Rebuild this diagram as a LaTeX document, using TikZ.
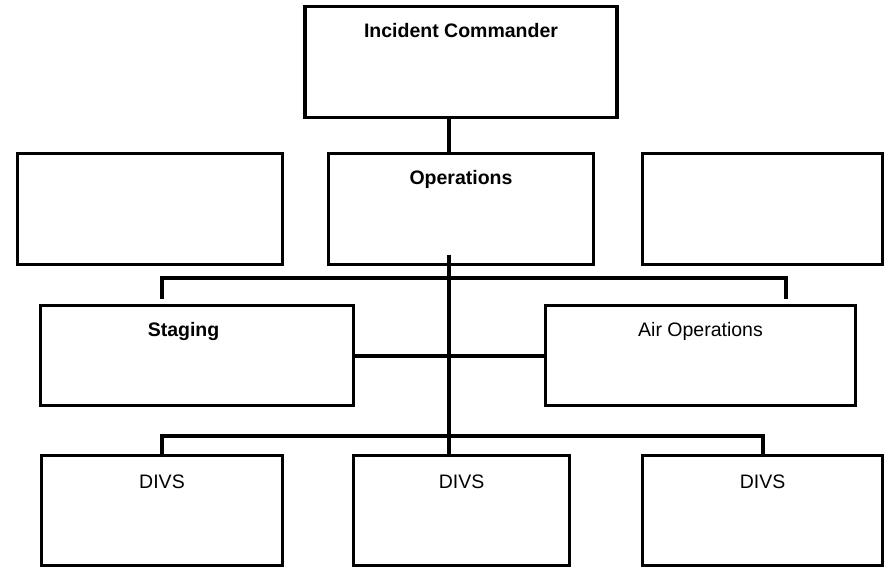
\documentclass[tikz,border=0pt]{standalone}
\usepackage{fontspec}
\setmainfont{Liberation Sans}
\usetikzlibrary{positioning}

\begin{document}
\begin{tikzpicture}[font=\fontsize{19.5}{23}\selectfont]
  \tikzstyle{post}=[rectangle,draw=black,line width=3.3pt,inner sep=0pt,outer sep=0pt,text height=31pt,text depth=80pt]
  \tikzstyle{unit}=[post,text depth=69pt]
  \tikzstyle{divs}=[post,text height=33pt,text depth=77pt,minimum width=240pt]
  \tikzstyle{link}=[line width=4pt]

  \useasboundingbox (0,0) rectangle (890pt,-569pt);

  \begin{scope}
    % command and general staff
    \node [post,minimum width=312pt] (IC) at (461pt,-62pt) {\textbf{Incident Commander}};
    \node [post,minimum width=265pt] (Ops) [below=36pt of IC] {\textbf{Operations}};
    \node [post,minimum width=265pt] (GenL) [left=46pt of Ops] {};
    \node [post,minimum width=240pt] (GenR) [right=49pt of Ops] {};
    % branches under operations
    \node [unit,minimum width=313pt] (Stg) [below right=41pt and 23pt of GenL.south west]
      {\textbf{Staging}\hspace*{27pt}};
    \node [unit,minimum width=310pt] (Air) [right=192pt of Stg] {Air Operations};
    % divisions
    \node [divs,minimum width=241pt] (Div1) [below right=50pt and 1pt of Stg.south west] {DIVS};
    \node [divs,minimum width=216pt] (Div2) [right=71pt of Div1] {DIVS};
    \node [divs] (Div3) [right=73pt of Div2] {DIVS};
  \end{scope}

  \begin{scope}
    \coordinate (spine) at ([xshift=-12pt]Ops.north);
    \coordinate (spinetop) at ([xshift=-12pt,yshift=10pt]Ops.south);
    \coordinate (stgtap) at ([xshift=-35.5pt,yshift=7pt]Stg.north);
    \coordinate (airtap) at ([xshift=85pt,yshift=7pt]Air.north);
    \draw [link] (IC.south -| spine) -- (spine);
    \draw [link] (spinetop) -- (Div2.north -| spinetop);
    \draw [link] (stgtap) -- ++(0,21pt) -| (airtap);
    \draw [link] (Stg.east) -- (Air.west);
    \draw [link] (Div1.north) -- ++(0,20pt) -| (Div3.north);
  \end{scope}
\end{tikzpicture}
\end{document}
